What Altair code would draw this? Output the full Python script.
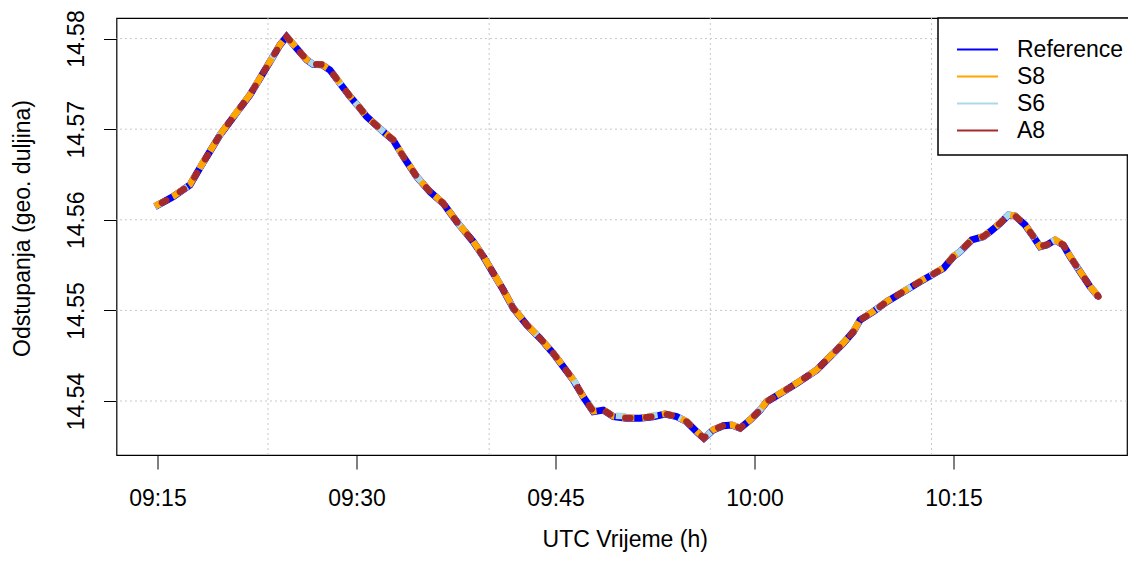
import altair as alt
import pandas as pd

# ---- data ----
times = ["09:14:49", "09:16:11", "09:17:27", "09:18:12", "09:18:57", "09:19:43", "09:20:28", "09:21:13",
         "09:21:58", "09:22:44", "09:23:29", "09:24:14", "09:24:44", "09:25:29", "09:26:15", "09:26:44",
         "09:27:23", "09:28:00", "09:28:45", "09:29:31", "09:30:16", "09:30:46", "09:32:01", "09:32:46",
         "09:33:32", "09:34:32", "09:35:32", "09:36:32", "09:37:33", "09:38:48", "09:39:34", "09:40:19",
         "09:41:04", "09:41:49", "09:42:50", "09:43:50", "09:44:50", "09:45:35", "09:46:20", "09:47:05",
         "09:47:51", "09:48:36", "09:49:22", "09:50:22", "09:51:22", "09:52:22", "09:53:15", "09:54:08",
         "09:54:53", "09:55:38", "09:56:11", "09:56:53", "09:57:39", "09:58:17", "09:58:55", "09:59:40",
         "10:00:25", "10:00:55", "10:02:10", "10:03:11", "10:04:41", "10:05:41", "10:06:41", "10:07:27",
         "10:07:57", "10:08:57", "10:09:58", "10:11:13", "10:12:28", "10:13:29", "10:14:14", "10:14:59",
         "10:15:29", "10:16:22", "10:17:14", "10:17:45", "10:18:30", "10:19:08", "10:19:38", "10:20:23",
         "10:21:01", "10:21:31", "10:22:01", "10:22:39", "10:23:16", "10:23:47", "10:24:32", "10:25:17",
         "10:25:55"]

reference = [14.56145, 14.56255, 14.56384, 14.56572, 14.56752, 14.56936, 14.57083, 14.57231,
             14.57377, 14.57562, 14.57745, 14.57929, 14.58021, 14.57893, 14.57764, 14.57716,
             14.57712, 14.57653, 14.57507, 14.57359, 14.57231, 14.57138, 14.56972, 14.56881,
             14.56696, 14.56476, 14.56310, 14.56182, 14.55979, 14.55758, 14.55593, 14.55409,
             14.55225, 14.55023, 14.54839, 14.54692, 14.54526, 14.54379, 14.54232, 14.54047,
             14.53882, 14.53900, 14.53827, 14.53809, 14.53809, 14.53827, 14.53856, 14.53827,
             14.53771, 14.53661, 14.53588, 14.53680, 14.53727, 14.53735, 14.53699, 14.53790,
             14.53900, 14.53992, 14.54103, 14.54195, 14.54342, 14.54489, 14.54637, 14.54765,
             14.54894, 14.54986, 14.55096, 14.55206, 14.55317, 14.55402, 14.55465, 14.55593,
             14.55648, 14.55777, 14.55813, 14.55869, 14.55961, 14.56053, 14.56042, 14.55943,
             14.55813, 14.55703, 14.55722, 14.55777, 14.55722, 14.55593, 14.55427, 14.55262,
             14.55151]

s8 = [14.56150, 14.56258, 14.56390, 14.56575, 14.56755, 14.56940, 14.57088, 14.57236,
      14.57380, 14.57565, 14.57748, 14.57931, 14.58024, 14.57896, 14.57766, 14.57718,
      14.57714, 14.57655, 14.57510, 14.57362, 14.57234, 14.57140, 14.56975, 14.56884,
      14.56699, 14.56479, 14.56313, 14.56185, 14.55982, 14.55761, 14.55596, 14.55412,
      14.55228, 14.55026, 14.54842, 14.54695, 14.54529, 14.54382, 14.54235, 14.54050,
      14.53886, 14.53904, 14.53830, 14.53812, 14.53812, 14.53830, 14.53859, 14.53830,
      14.53774, 14.53664, 14.53592, 14.53683, 14.53730, 14.53738, 14.53702, 14.53793,
      14.53903, 14.53995, 14.54106, 14.54198, 14.54345, 14.54492, 14.54640, 14.54768,
      14.54897, 14.54989, 14.55099, 14.55209, 14.55320, 14.55405, 14.55468, 14.55596,
      14.55651, 14.55780, 14.55816, 14.55872, 14.55964, 14.56056, 14.56045, 14.55946,
      14.55816, 14.55706, 14.55725, 14.55780, 14.55725, 14.55596, 14.55430, 14.55265,
      14.55154]

s6 = [14.56147, 14.56257, 14.56386, 14.56574, 14.56754, 14.56938, 14.57085, 14.57233,
      14.57379, 14.57564, 14.57747, 14.57930, 14.58022, 14.57895, 14.57766, 14.57718,
      14.57714, 14.57655, 14.57509, 14.57361, 14.57233, 14.57140, 14.56974, 14.56883,
      14.56698, 14.56478, 14.56312, 14.56184, 14.55981, 14.55760, 14.55595, 14.55411,
      14.55227, 14.55025, 14.54841, 14.54694, 14.54530, 14.54385, 14.54240, 14.54060,
      14.53900, 14.53910, 14.53840, 14.53830, 14.53820, 14.53840, 14.53860, 14.53830,
      14.53773, 14.53663, 14.53590, 14.53682, 14.53729, 14.53737, 14.53701, 14.53792,
      14.53902, 14.53994, 14.54105, 14.54197, 14.54344, 14.54491, 14.54639, 14.54767,
      14.54896, 14.54988, 14.55098, 14.55208, 14.55319, 14.55404, 14.55467, 14.55595,
      14.55650, 14.55779, 14.55815, 14.55871, 14.55963, 14.56055, 14.56044, 14.55945,
      14.55815, 14.55705, 14.55724, 14.55779, 14.55724, 14.55595, 14.55429, 14.55264,
      14.55153]

a8 = [14.56146, 14.56256, 14.56385, 14.56573, 14.56753, 14.56937, 14.57084, 14.57232,
      14.57378, 14.57563, 14.57746, 14.57929, 14.58021, 14.57894, 14.57765, 14.57717,
      14.57713, 14.57654, 14.57508, 14.57360, 14.57232, 14.57139, 14.56973, 14.56882,
      14.56697, 14.56477, 14.56311, 14.56183, 14.55980, 14.55759, 14.55594, 14.55410,
      14.55226, 14.55024, 14.54840, 14.54693, 14.54527, 14.54380, 14.54233, 14.54048,
      14.53884, 14.53902, 14.53829, 14.53811, 14.53811, 14.53829, 14.53858, 14.53829,
      14.53772, 14.53662, 14.53590, 14.53681, 14.53728, 14.53736, 14.53700, 14.53791,
      14.53901, 14.53993, 14.54104, 14.54196, 14.54343, 14.54490, 14.54638, 14.54766,
      14.54895, 14.54987, 14.55097, 14.55207, 14.55318, 14.55403, 14.55466, 14.55594,
      14.55649, 14.55778, 14.55814, 14.55870, 14.55962, 14.56054, 14.56043, 14.55944,
      14.55814, 14.55704, 14.55723, 14.55778, 14.55723, 14.55594, 14.55428, 14.55263,
      14.55152]

series_names = ["Reference", "S8", "S6", "A8"]
series_colors = ["#0000FF", "#FFA500", "#ADD8E6", "#A52A2A"]

x_tick_labels = ["09:15", "09:30", "09:45", "10:00", "10:15"]
y_ticks = [14.54, 14.55, 14.56, 14.57, 14.58]
x_grid_times = ["09:23:20", "09:40:00", "09:56:40", "10:13:20"]

DAY = "2024-01-01T"

# ---- tables ----
rows = []
for name, vals in zip(series_names, [reference, s8, s6, a8]):
    for t, v in zip(times, vals):
        rows.append({"time": DAY + t, "value": v, "series": name})
df = pd.DataFrame(rows)

grid_x_df = pd.DataFrame({"time": [DAY + t for t in x_grid_times]})
grid_y_df = pd.DataFrame({"value": y_ticks})

PAD_LEFT, PAD_TOP, PAD_RIGHT, PAD_BOTTOM = 108.5, 10, 1, 97
W, H = 1010.5, 437
FONT = "Liberation Sans"
FS = 23


def dt(hms):
    h, m, s = [int(p) for p in hms.split(":")]
    return alt.DateTime(year=2024, month=1, date=1, hours=h, minutes=m, seconds=s)


x_scale = alt.Scale(domain=[dt("09:11:55"), dt("10:28:04")], nice=False)
y_scale = alt.Scale(domain=[14.53404, 14.58227], nice=False, zero=False)

x_axis = alt.Axis(
    values=[dt(t + ":00") for t in x_tick_labels], format="%H:%M", grid=False, domain=False,
    tickSize=14, tickColor="black", tickWidth=1, labelFontSize=FS, labelColor="black",
    labelBaseline="alphabetic", labelPadding=36, labelFlush=False, labelOverlap=False,
    title="UTC Vrijeme (h)", titleFontSize=FS, titleFontWeight="normal", titleColor="black",
    titleBaseline="bottom", titleY=PAD_BOTTOM - 0.5, titleX=W / 2 + 3, titleAlign="center",
)
y_axis = alt.Axis(
    values=y_ticks, format=".2f", grid=False, domain=False,
    tickSize=13, tickColor="black", tickWidth=1, labelFontSize=FS, labelColor="black",
    labelAngle=270, labelAlign="center", labelBaseline="alphabetic", labelPadding=20,
    labelFlush=False, labelOverlap=False,
    title="Odstupanja (geo. duljina)", titleFontSize=FS, titleFontWeight="normal",
    titleColor="black", titleAngle=270, titleAlign="center", titleBaseline="alphabetic",
    titleX=-87.5, titleY=210,
)

X = alt.X("time:T", scale=x_scale, axis=x_axis)
Y = alt.Y("value:Q", scale=y_scale, axis=y_axis)

color = alt.Color(
    "series:N",
    scale=alt.Scale(domain=series_names, range=series_colors),
    sort=series_names,
    legend=alt.Legend(
        title=" ", titleFontSize=1, titlePadding=6,
        orient="none", legendX=821.5, legendY=0,
        symbolType="stroke", symbolSize=1681, symbolStrokeWidth=2, symbolDash=[1, 0],
        symbolOffset=7, clipHeight=27, rowPadding=0, labelOffset=18,
        labelFontSize=FS, labelColor="black", labelFont=FONT, labelLimit=400,
        padding=11, strokeColor="black", fillColor="white", cornerRadius=0,
    ),
)

grid_v = alt.Chart(grid_x_df).mark_rule(color="#C8C8C8", strokeDash=[2, 3], strokeWidth=1).encode(x=X)
grid_h = alt.Chart(grid_y_df).mark_rule(color="#C8C8C8", strokeDash=[2, 3], strokeWidth=1).encode(y=Y)

base = alt.Chart(df)
draw_order = ["Reference", "S6", "S8", "A8"]
styles = {
    "Reference": dict(strokeWidth=7),
    "S6": dict(strokeWidth=6.5, strokeDash=[10, 22], strokeDashOffset=4),
    "S8": dict(strokeWidth=6.5, strokeDash=[12, 8], strokeDashOffset=0),
    "A8": dict(strokeWidth=6.5, strokeDash=[5, 16], strokeCap="round", strokeDashOffset=13),
}
lines = []
for name in draw_order:
    lines.append(
        base.transform_filter(alt.datum.series == name)
        .mark_line(**styles[name])
        .encode(x=X, y=Y, color=color)
    )

chart = alt.layer(grid_v, grid_h, *lines).properties(
    width=W, height=H,
    autosize=alt.AutoSizeParams(type="none"),
    padding={"left": PAD_LEFT, "top": PAD_TOP, "right": PAD_RIGHT, "bottom": PAD_BOTTOM},
).configure(
    font=FONT
).configure_view(
    stroke="black", strokeWidth=1.2
).configure_legend(
    strokeWidth=1.5
)

chart.save("out.html", embed_options={"renderer": "svg", "actions": False})
